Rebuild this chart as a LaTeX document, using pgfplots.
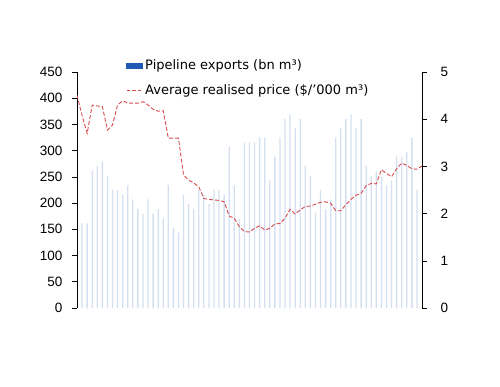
\documentclass[border=0pt]{standalone}
\usepackage{fontspec}
\setmainfont{Liberation Sans}
\newfontfamily\legfont{DejaVu Sans}
\usepackage{pgfplots}
\pgfplotsset{compat=1.18}
\definecolor{barfill}{RGB}{212,224,240}
\definecolor{barleg}{RGB}{31,90,180}
\definecolor{linered}{RGB}{215,75,75}
\pgfplotsset{
  common/.style={
    at={(77pt,78pt)}, anchor=south west, scale only axis,
    width=345pt, height=236pt, xmin=0, xmax=68,
    hide x axis, tick align=outside, major tick length=5pt,
    tick style={black, line width=0.6pt}, axis line style={black, line width=0.8pt},
    /pgf/number format/assume math mode=true,
    yticklabel style={font=\fontsize{13.5}{15}\selectfont},
  }
}
\begin{document}
\begin{tikzpicture}
\path[use as bounding box] (0,0) rectangle (500pt,386pt);
\begin{axis}[common, ymin=0, ymax=450, ytick={0,50,...,450}, axis y line*=left,
  yticklabel shift=6pt, ybar, bar width=1.3pt]
\addplot[fill=barfill, draw=none] coordinates {
(1,161.5) (2,161.5) (3,261) (4,271) (5,279) (6,252) (7,225) (8,225) (9,215.5) (10,234)
(11,207) (12,189) (13,180) (14,207) (15,180) (16,189) (17,171) (18,234.6) (19,152.6) (20,143.6)
(21,215.5) (22,198) (23,189) (24,225) (25,215) (26,198) (27,225) (28,225) (29,215.5) (30,307)
(31,234) (32,170) (33,316) (34,316) (35,316) (36,325) (37,325) (38,243.5) (39,288.5) (40,325)
(41,360) (42,369) (43,342.6) (44,360) (45,271) (46,252) (47,182) (48,225) (49,189) (50,207)
(51,325) (52,342.6) (53,360) (54,369) (55,342.6) (56,360) (57,271) (58,252) (59,261) (60,250)
(61,234) (62,243.5) (63,288.5) (64,288.5) (65,297.5) (66,325) (67,225)
};
\end{axis}
\begin{axis}[common, ymin=0, ymax=5, ytick={0,...,5}, axis y line*=right,
  yticklabel shift=10pt,
  legend cell align=left,
  legend style={draw=none, fill=none, at={(0.142,1.06)}, anchor=north west,
    font=\legfont\fontsize{13}{15}\selectfont, row sep=9pt, inner sep=0pt}]
\addlegendimage{legend image code/.code={\fill[barleg] (0pt,-2.5pt) rectangle (16pt,2.5pt);}}
\addlegendentry{Pipeline exports (bn m³)}
\addlegendimage{legend image code/.code={\draw[linered, line width=1pt, dash pattern=on 3.5pt off 2pt] (0pt,0pt) -- (16pt,0pt);}}
\addlegendentry{Average realised price (\$/’000 m³)}
\addplot[linered, line width=0.9pt, dash pattern=on 4pt off 2pt, forget plot] coordinates {
(0,4.51) (1,4.08) (2,3.70) (3,4.30) (4,4.28) (5,4.27) (6,3.77) (7,3.88) (8,4.30) (9,4.39)
(10,4.34) (11,4.34) (12,4.34) (13,4.37) (14,4.30) (15,4.21) (16,4.17) (17,4.18) (18,3.60) (19,3.60)
(20,3.60) (21,2.82) (22,2.71) (23,2.65) (24,2.57) (25,2.32) (26,2.30) (27,2.29) (28,2.28) (29,2.25)
(30,1.95) (31,1.90) (32,1.72) (33,1.62) (34,1.61) (35,1.69) (36,1.74) (37,1.65) (38,1.69) (39,1.78)
(40,1.79) (41,1.90) (42,2.09) (43,1.99) (44,2.08) (45,2.15) (46,2.16) (47,2.20) (48,2.24) (49,2.25)
(50,2.22) (51,2.06) (52,2.06) (53,2.19) (54,2.30) (55,2.39) (56,2.43) (57,2.59) (58,2.64) (59,2.63)
(60,2.93) (61,2.85) (62,2.78) (63,2.95) (64,3.07) (65,3.02) (66,2.95) (67,2.94) (68,3.01)
};
\end{axis}
\end{tikzpicture}
\end{document}
